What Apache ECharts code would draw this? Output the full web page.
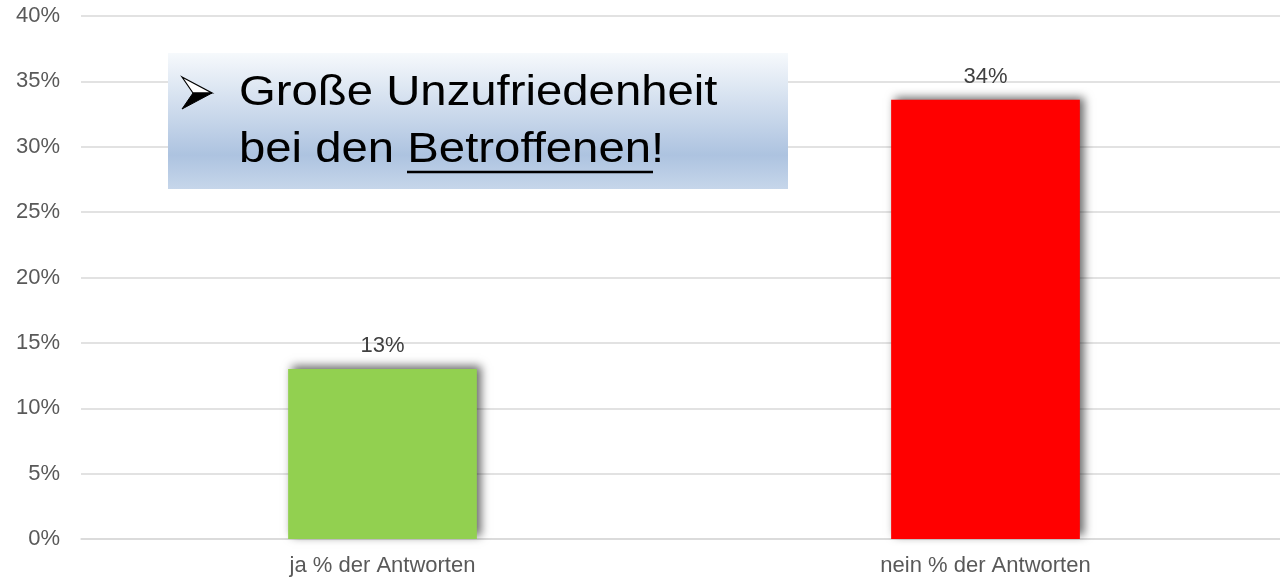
<!DOCTYPE html>
<html>
<head>
<meta charset="utf-8">
<script src="https://cdn.jsdelivr.net/npm/echarts@6/dist/echarts.min.js"></script>
<style>
  html, body { margin: 0; padding: 0; background: #fff; }
  #main { width: 1280px; height: 580px; }
</style>
</head>
<body>
<div id="main"></div>
<script>
var categories = ['ja % der Antworten', 'nein % der Antworten'];
var values = [13.0, 33.6];
var labels = ['13%', '34%'];
var barColors = ['#92d050', '#ff0000'];
var yTicks = [0, 5, 10, 15, 20, 25, 30, 35, 40];

var chartDom = document.getElementById('main');
var myChart = echarts.init(chartDom);
var font = '"Liberation Sans", Arial, sans-serif';

var option = {
  backgroundColor: '#fff',
  animation: false,
  grid: { left: 81, width: 1206, top: 16, bottom: 41, outerBoundsMode: 'none', containLabel: false },
  xAxis: {
    type: 'category',
    data: categories,
    axisTick: { show: false },
    axisLine: { lineStyle: { color: '#d9d9d9', width: 1.5 } },
    axisLabel: { color: '#595959', fontSize: 22, fontFamily: font, margin: 16 }
  },
  yAxis: {
    type: 'value',
    min: yTicks[0],
    max: yTicks[yTicks.length - 1],
    interval: 5,
    axisLine: { show: false },
    axisTick: { show: false },
    splitLine: { lineStyle: { color: '#d9d9d9', width: 1.5 } },
    axisLabel: { color: '#595959', fontSize: 22, fontFamily: font, margin: 21, formatter: '{value}%' }
  },
  series: [{
    type: 'bar',
    barWidth: '31.3%',
    data: values.map(function (v, i) {
      return { value: v, itemStyle: { color: barColors[i] } };
    }),
    itemStyle: {
      shadowColor: 'rgba(0,0,0,0.6)',
      shadowBlur: 9,
      shadowOffsetX: 4,
      shadowOffsetY: -3
    },
    label: {
      show: true,
      position: 'top',
      distance: 12,
      color: '#404040',
      fontSize: 22,
      fontFamily: font,
      formatter: function (p) { return labels[p.dataIndex]; }
    }
  }],
  graphic: [
    {
      type: 'rect', z: 100,
      shape: { x: 168, y: 53, width: 620, height: 136 },
      style: {
        fill: new echarts.graphic.LinearGradient(0, 0, 0, 1, [
          { offset: 0, color: '#f6f9fc' },
          { offset: 0.75, color: '#adc3e0' },
          { offset: 1, color: '#c6d6ea' }
        ])
      }
    },
    {
      type: 'polygon', z: 101,
      shape: { points: [[182, 77], [212, 93], [193, 93]] },
      style: { fill: '#fff', stroke: '#000', lineWidth: 1.2 }
    },
    {
      type: 'polygon', z: 101,
      shape: { points: [[193, 93], [212, 93], [182, 109]] },
      style: { fill: '#000', stroke: '#000', lineWidth: 1 }
    },
    {
      type: 'text', z: 101, x: 239, y: 93, scaleX: 1.10,
      style: { text: 'Große Unzufriedenheit', fontSize: 43, fontFamily: font, fill: '#000', verticalAlign: 'middle' }
    },
    {
      type: 'text', z: 101, x: 239, y: 150, scaleX: 1.10,
      style: { text: 'bei den Betroffenen!', fontSize: 43, fontFamily: font, fill: '#000', verticalAlign: 'middle' }
    },
    {
      type: 'line', z: 101,
      shape: { x1: 407, y1: 172, x2: 653, y2: 172 },
      style: { stroke: '#000', lineWidth: 2.5 }
    }
  ]
};

option && myChart.setOption(option);
</script>
</body>
</html>
